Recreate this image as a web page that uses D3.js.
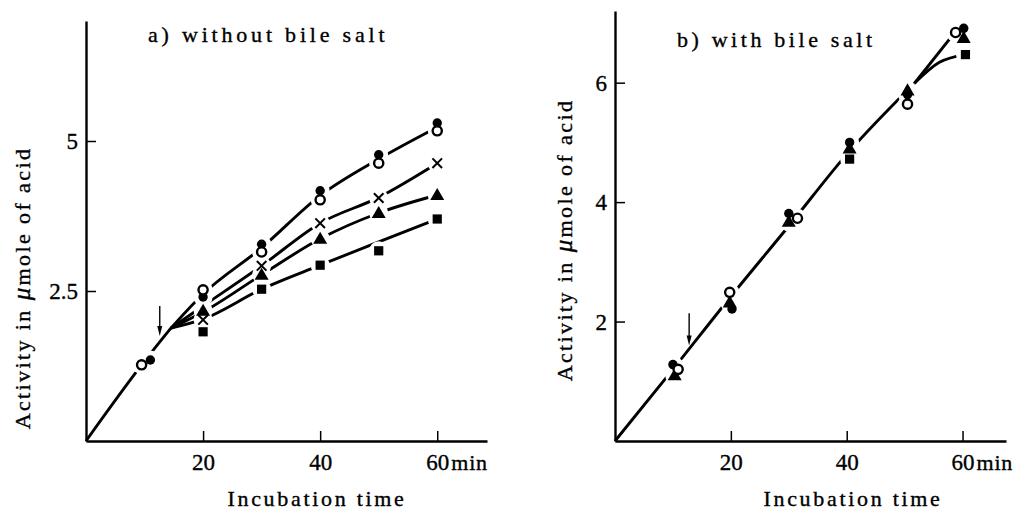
<!DOCTYPE html>
<html>
<head>
<meta charset="utf-8">
<script src="https://cdn.jsdelivr.net/npm/d3@7"></script>
<style>
  html, body { margin: 0; padding: 0; background: #fff; }
  svg { display: block; }
  svg text { font-family: "Liberation Serif", "Times New Roman", "DejaVu Serif", serif !important; fill: #000; stroke: #000; stroke-width: 0.35px; }
</style>
</head>
<body>
<svg id="chart" width="1016" height="510"></svg>
<script>
// ---------------- Data: panel a) without bile salt ----------------
const xTicksA = [20, 40, 60];
const yTicksA = [2.5, 5];
const yTickLabelsA = ["2.5", "5"];

const openA_t   = [9.5, 20, 30, 40, 50, 60];
const openA_v   = [1.27, 2.52, 3.15, 4.02, 4.63, 5.17];
const filledA_t = [11, 20, 30, 40, 50, 60];
const filledA_v = [1.35, 2.40, 3.28, 4.17, 4.77, 5.30];
const crossA_t  = [20, 30, 40, 50, 60];
const crossA_v  = [2.02, 2.92, 3.63, 4.05, 4.63];
const triA_t    = [20, 30, 40, 50, 60];
const triA_v    = [2.17, 2.77, 3.37, 3.80, 4.10];
const squareA_t = [20, 30, 40, 50, 60];
const squareA_v = [1.82, 2.53, 2.93, 3.17, 3.70];

// fitted curves (panel a)
const commonA_t = [0, 10, 14.5];
const commonA_v = [0, 1.33, 1.88];
const fanA_t = [14.5, 20, 30, 40, 50, 60];
const circleLineA_v = [1.88, 2.45, 3.22, 4.09, 4.70, 5.23];
const crossLineA_v  = [1.88, 2.25, 2.92, 3.63, 4.06, 4.63];
const triLineA_v    = [1.88, 2.15, 2.77, 3.37, 3.80, 4.10];
const squareLineA_v = [1.88, 2.03, 2.53, 2.93, 3.32, 3.70];
const arrowA = [12.6, 2.25, 1.75]; // time, from, to

// ---------------- Data: panel b) with bile salt ----------------
const xTicksB = [20, 40, 60];
const yTicksB = [2, 4, 6];
const yTickLabelsB = ["2", "4", "6"];

const openB_t   = [10.9, 19.8, 31.5, 50.5, 58.8];
const openB_v   = [1.20, 2.49, 3.73, 5.64, 6.84];
const filledB_t = [10.0, 20.2, 30, 40.5, 50.5, 60.2];
const filledB_v = [1.28, 2.21, 3.81, 5.00, 5.80, 6.91];
const triB_t    = [10.3, 19.8, 30, 40.5, 50.5, 60.2];
const triB_v    = [1.10, 2.32, 3.67, 4.90, 5.87, 6.75];
const squareB_t = [40.5, 60.5];
const squareB_v = [4.72, 6.47];

// fitted curves (panel b)
const mainB_t  = [0, 10, 20, 30, 40, 51.7];
const mainB_v  = [0, 1.2, 2.42, 3.6, 4.8, 5.99];
const upperB_t = [51.7, 58.5];
const upperB_v = [5.99, 6.82];
const lowerB_t = [51.7, 56, 60.5];
const lowerB_v = [5.99, 6.34, 6.47];
const arrowB = [12.8, 2.14, 1.6];

const titles = ["a) without bile salt", "b) with bile salt"];
const xTitle = "Incubation time";
const unitLabel = "min";

// ---------------- Drawing ----------------
const svg = d3.select("#chart");
const FONT = '"Liberation Serif", "Times New Roman", "DejaVu Serif", serif';

function zip(t, v) { return t.map((d, i) => [d, v[i]]); }

function drawPanel(cfg) {
  const g = svg.append("g").attr("font-family", FONT);
  const x = cfg.x, y = cfg.y;

  const xAxis = d3.axisBottom(x).tickValues(cfg.xTicks).tickSizeInner(-10).tickSizeOuter(0).tickPadding(13).tickFormat(d3.format("d"));
  const yAxis = d3.axisLeft(y).tickValues(cfg.yTicks).tickSizeInner(-10).tickSizeOuter(0).tickPadding(8)
    .tickFormat((d, i) => cfg.yLabels[i]);

  const gx = g.append("g").attr("transform", `translate(0,${y(0)})`).call(xAxis);
  const gy = g.append("g").attr("transform", `translate(${x(0)},0)`).call(yAxis);
  [gx, gy].forEach(a => {
    a.attr("font-family", FONT).attr("font-size", 23);
    a.select(".domain").attr("stroke", "#000").attr("stroke-width", 2.4);
    a.selectAll(".tick line").attr("stroke", "#000").attr("stroke-width", 1.5);
    a.selectAll(".tick text").attr("fill", "#000");
  });
  gy.selectAll(".tick text").attr("dy", "0.34em");

  g.append("text")
    .attr("x", x(60) + 14).attr("y", y(0) + 13).attr("dy", "0.71em")
    .attr("font-size", 22).attr("letter-spacing", 0.8).text(unitLabel);

  g.append("text").attr("x", cfg.titleX).attr("y", cfg.titleY)
    .attr("font-size", 22).attr("letter-spacing", cfg.titleSpacing).text(cfg.title);

  g.append("text").attr("x", cfg.xTitleX).attr("y", 506)
    .attr("text-anchor", "middle").attr("font-size", 22).attr("letter-spacing", 2.7).text(xTitle);

  const yt = g.append("text")
    .attr("transform", `translate(${cfg.yTitleX},${cfg.yTitleY}) rotate(-90)`)
    .attr("text-anchor", "middle").attr("font-size", 22).attr("letter-spacing", 2.4);
  yt.append("tspan").text("Activity in ");
  yt.append("tspan").attr("font-style", "italic").attr("font-size", 25).text("μ");
  yt.append("tspan").text("mole of acid");

  const line = d3.line().x(d => x(d[0])).y(d => y(d[1])).curve(d3.curveMonotoneX);
  const lineG = g.append("g").attr("fill", "none").attr("stroke", "#000").attr("stroke-width", 2.9).attr("stroke-linecap", "butt");
  cfg.lines.forEach(l => lineG.append("path").attr("d", line(l)));

  const [at, af, ato] = cfg.arrow;
  g.append("line").attr("x1", x(at)).attr("x2", x(at)).attr("y1", y(af)).attr("y2", y(ato) - 6)
    .attr("stroke", "#000").attr("stroke-width", 1.4);
  g.append("path")
    .attr("d", `M${x(at) - 2.5},${y(ato) - 10} L${x(at) + 2.5},${y(ato) - 10} L${x(at)},${y(ato)} Z`)
    .attr("fill", "#000");

  const halo = g.append("g");
  const mk = g.append("g");
  cfg.markers.forEach(m => {
    zip(m.t, m.v).forEach(p => {
      halo.append("circle").attr("cx", x(p[0])).attr("cy", y(p[1])).attr("r", 9.5).attr("fill", "#fff");
    });
  });
  cfg.markers.forEach(m => {
    zip(m.t, m.v).forEach(p => {
      const cx = x(p[0]), cy = y(p[1]);
      if (m.type === "open") {
        mk.append("circle").attr("cx", cx).attr("cy", cy).attr("r", 4.6).attr("fill", "#fff").attr("stroke", "#000").attr("stroke-width", 2.4);
      } else if (m.type === "filled") {
        mk.append("circle").attr("cx", cx).attr("cy", cy).attr("r", 4.7).attr("fill", "#000");
      } else if (m.type === "tri") {
        mk.append("path").attr("d", d3.symbol(d3.symbolTriangle, 85)()).attr("transform", `translate(${cx},${cy + 1})`).attr("fill", "#000");
      } else if (m.type === "square") {
        mk.append("rect").attr("x", cx - 4.6).attr("y", cy - 4.6).attr("width", 9.2).attr("height", 9.2).attr("fill", "#000");
      } else if (m.type === "cross") {
        mk.append("path").attr("d", `M${cx - 4.8},${cy - 4.8}L${cx + 4.8},${cy + 4.8}M${cx + 4.8},${cy - 4.8}L${cx - 4.8},${cy + 4.8}`)
          .attr("stroke", "#000").attr("stroke-width", 2);
      }
    });
  });
}

drawPanel({
  x: d3.scaleLinear().domain([0, 68.5]).range([86, 487]),
  y: d3.scaleLinear().domain([0, 7]).range([441, 21]),
  xTicks: xTicksA, yTicks: yTicksA, yLabels: yTickLabelsA,
  title: titles[0], titleX: 148, titleY: 42, titleSpacing: 3.8,
  xTitleX: 317, yTitleX: 30, yTitleY: 288,
  lines: [
    zip(commonA_t, commonA_v),
    zip(fanA_t, circleLineA_v),
    zip(fanA_t, crossLineA_v),
    zip(fanA_t, triLineA_v),
    zip(fanA_t, squareLineA_v)
  ],
  arrow: arrowA,
  markers: [
    { type: "square", t: squareA_t, v: squareA_v },
    { type: "tri", t: triA_t, v: triA_v },
    { type: "cross", t: crossA_t, v: crossA_v },
    { type: "filled", t: filledA_t, v: filledA_v },
    { type: "open", t: openA_t, v: openA_v }
  ]
});

drawPanel({
  x: d3.scaleLinear().domain([0, 67.5]).range([615, 1006]),
  y: d3.scaleLinear().domain([0, 7.2]).range([441, 11]),
  xTicks: xTicksB, yTicks: yTicksB, yLabels: yTickLabelsB,
  title: titles[1], titleX: 677, titleY: 47, titleSpacing: 3.6,
  xTitleX: 853, yTitleX: 572, yTitleY: 240,
  lines: [
    zip(mainB_t, mainB_v),
    zip(upperB_t, upperB_v),
    zip(lowerB_t, lowerB_v)
  ],
  arrow: arrowB,
  markers: [
    { type: "square", t: squareB_t, v: squareB_v },
    { type: "tri", t: triB_t, v: triB_v },
    { type: "filled", t: filledB_t, v: filledB_v },
    { type: "open", t: openB_t, v: openB_v }
  ]
});
</script>
</body>
</html>
